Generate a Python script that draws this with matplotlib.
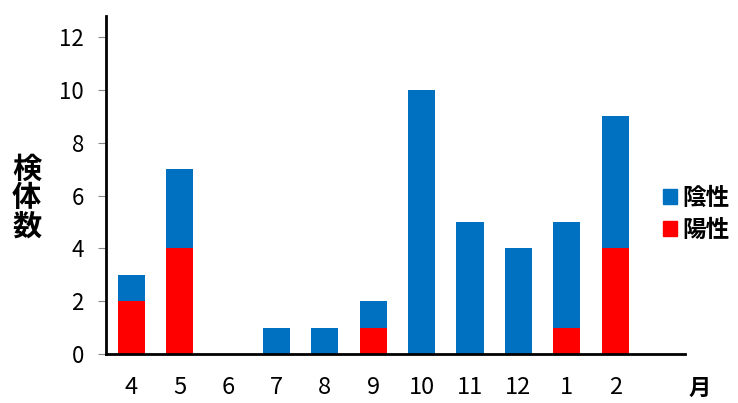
import matplotlib.pyplot as plt
from matplotlib.patches import Patch

plt.rcParams['font.family'] = ['Noto Sans CJK JP', 'DejaVu Sans']

months = ['4', '5', '6', '7', '8', '9', '10', '11', '12', '1', '2']
positive = [2, 4, 0, 0, 0, 1, 0, 0, 0, 1, 4]
negative = [1, 3, 0, 1, 1, 1, 10, 5, 4, 4, 5]

BLUE = '#0070C0'
RED = '#FF0000'

fig = plt.figure(figsize=(7.38, 4.03), dpi=100)
ax = fig.add_axes([0.1436, 0.1216, 0.7844, 0.8384])

x = list(range(len(months)))
ax.bar(x, positive, width=0.56, color=RED)
ax.bar(x, negative, width=0.56, bottom=positive, color=BLUE)

ax.set_xlim(-0.52, 11.44)
ax.set_ylim(0, 12.8)
ax.set_yticks(range(0, 13, 2))
ax.set_xticks(x)
ax.set_xticklabels(months)

for s in ['top', 'right']:
    ax.spines[s].set_visible(False)
ax.spines['left'].set_linewidth(2)
ax.spines['bottom'].set_linewidth(2)

ax.tick_params(axis='y', length=6, width=0.8, color='#888888', labelsize=16, pad=10)
ax.tick_params(axis='x', length=0, labelsize=17, pad=16)

fig.text(0.036, 0.51, '検\n体\n数', fontsize=21, fontweight='bold',
         ha='center', va='center', linespacing=0.95)
fig.text(0.948, 0.035, '月', fontsize=16, fontweight='bold', ha='center', va='center')

handles = [Patch(color=BLUE, label='陰性'), Patch(color=RED, label='陽性')]
fig.legend(handles=handles, loc='center left', bbox_to_anchor=(0.885, 0.47),
           frameon=False, prop={'weight': 'bold', 'size': 17},
           handlelength=0.6, handleheight=0.6, handletextpad=0.25,
           labelspacing=0.35, borderaxespad=0)

fig.savefig('out.png', dpi=100)
